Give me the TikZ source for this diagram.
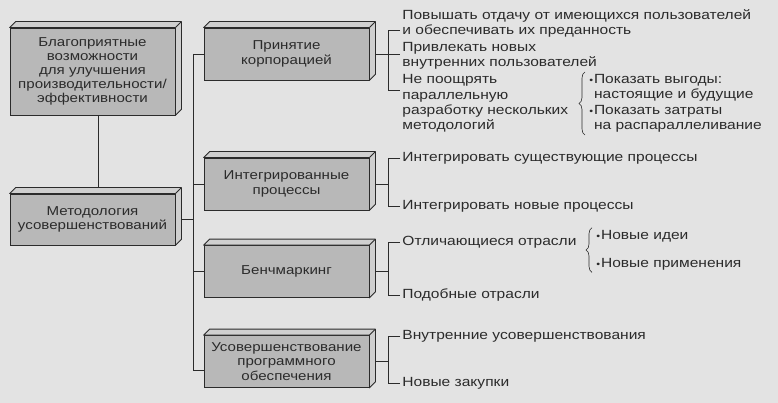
\documentclass[tikz,border=0pt]{standalone}
\usepackage{fontspec}
\setmainfont{Liberation Sans}[FakeStretch=1.17]
\usepackage{graphicx}
\usepackage{xcolor}
\usepackage{tikz}
\usetikzlibrary{positioning, decorations.pathreplacing}
\definecolor{pagebg}{rgb}{0.89,0.89,0.89}
\definecolor{slabfront}{rgb}{0.72,0.72,0.72}
\definecolor{slabside}{rgb}{0.81,0.81,0.81}
\definecolor{inkcol}{rgb}{0.17,0.17,0.17}
\newcommand{\dotitem}{\scalebox{0.7}{\textbullet}\kern0.8pt}

\begin{document}
\begin{tikzpicture}[x=1pt, y=-1pt,
    line width=0.8pt, draw=inkcol, text=inkcol,
    slab/.style={rectangle, draw, fill=slabfront, minimum width=165pt, minimum height=52pt, align=center, font=\fontsize{12.9}{14.2}\selectfont},
    face/.style={draw, fill=slabside, line join=round},
    leaf/.style={anchor=west, align=left, inner sep=2pt, font=\fontsize{13.3}{15.3}\selectfont},
    brace/.style={decorate, decoration={brace, amplitude=6pt}, line width=0.6pt}
]
\fill[pagebg] (0,0) rectangle (778,403);
\useasboundingbox (0,0) rectangle (778,403);

% left column
\node[slab, minimum height=87pt] (opp) at (92.5,71.5) {Благоприятные\\возможности\\для улучшения\\производительности/\\эффективности};
\node[slab, minimum height=51pt] (method) at (92.5,219.5) {Методология\\усовершенствований};

% middle column
\node[slab] (corp) at (286.5,54) {Принятие\\корпорацией};
\node[slab] (integ) at (286.5,184) {Интегрированные\\процессы};
\node[slab] (bench) at (286.5,271.5) {Бенчмаркинг};
\node[slab] (soft) at (286.5,361.5) {Усовершенствование\\программного\\обеспечения};

% extruded faces
\foreach \n in {opp,method,corp,integ,bench,soft}{
  \draw[face] (\n.north west) -- ++(6,-6) -- ([shift={(6,-6)}]\n.north east) -- ([shift={(6,-6)}]\n.south east) -- (\n.south east) -- (\n.north east) -- cycle;
  \draw (\n.north east) -- ++(6,-6);
}

% leaves
\node[leaf] (c1) at (400,23.5) {Повышать отдачу от имеющихся пользователей\\и обеспечивать их преданность};
\node[leaf] (c2) at (400,55.5) {Привлекать новых\\внутренних пользователей};
\node[leaf] (c3) at (400,103.5) {Не поощрять\\параллельную\\разработку нескольких\\методологий};
\node[leaf] (s1) at (587,88) {\dotitem Показать выгоды:\\\phantom{\dotitem}настоящие и будущие};
\node[leaf] (s2) at (587,119) {\dotitem Показать затраты\\\phantom{\dotitem}на распараллеливание};
\node[leaf] (i1) at (400,158) {Интегрировать существующие процессы};
\node[leaf] (i2) at (400,206) {Интегрировать новые процессы};
\node[leaf] (b1) at (400,242) {Отличающиеся отрасли};
\node[leaf] (b2) at (400,295) {Подобные отрасли};
\node[leaf] (n1) at (594,236) {\dotitem Новые идеи};
\node[leaf] (n2) at (594,264) {\dotitem Новые применения};
\node[leaf] (u1) at (400,336) {Внутренние усовершенствования};
\node[leaf] (u2) at (400,383) {Новые закупки};

% tree
\coordinate (trunk) at (193,0);
\coordinate (rail) at (388,0);
\coordinate (softin) at ([yshift=-8.5pt]soft.west);
\draw ([xshift=5.5pt]opp.south) -- ([xshift=5.5pt,yshift=6pt]method.north);
\draw ([xshift=6pt]method.east) -- (method.east -| trunk);
\draw (corp.west -| trunk) -- (softin -| trunk) -- (softin);
\foreach \b in {corp,integ,bench}
  \draw (\b.west -| trunk) -- (\b.west);

% brackets
\coordinate (c1t) at ([yshift=-6.5pt]c1.west);
\coordinate (c3t) at ([yshift=13.5pt]c3.west);
\draw (c1t) -| (rail |- c3t) -- (c3t);
\draw ([xshift=6pt]corp.east) -- (c2.west |- corp.east);
\foreach \b/\p/\q in {integ/i1/i2, bench/b1/b2, soft/u1/u2}{
  \draw (\p.west) -| (rail |- \q.west) -- (\q.west);
  \draw ([xshift=6pt]\b.east) -- (rail |- \b.east);
}
\draw[brace] ([xshift=-2pt]s2.south west) -- ([xshift=-2pt]s1.north west);
\draw[brace] ([xshift=-2pt]n2.south west) -- ([xshift=-2pt]n1.north west);

\end{tikzpicture}
\end{document}
